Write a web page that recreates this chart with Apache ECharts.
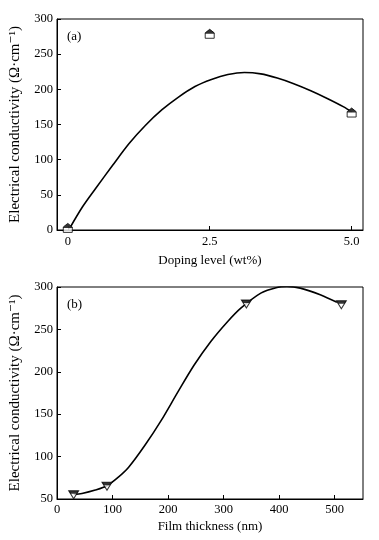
<!DOCTYPE html>
<html><head><meta charset="utf-8">
<script src="https://cdn.jsdelivr.net/npm/echarts@6/dist/echarts.min.js"></script>
<style>html,body{margin:0;padding:0;background:#fff}#c{width:379px;height:540px}</style>
</head><body><div id="c"></div>
<script>
// Panel (a): doping level vs conductivity
const dopingLevels = [0, 2.5, 5.0];
const conductivityA = [3, 279, 167];
const fitXA = [0.03, 0.26, 0.49, 0.79, 1.08, 1.37, 1.66, 1.95, 2.24, 2.53, 2.82, 3.11, 3.40, 3.69, 3.98, 4.28, 4.57, 4.86, 5.0];
const fitYA = [2, 33, 59, 92, 123, 149, 171, 189, 204, 214, 221, 224, 222, 216, 208, 198, 187, 175, 168];
const xTicksA = [0, 2.5, 5.0];
const yTicksA = [0, 50, 100, 150, 200, 250, 300];

// Panel (b): film thickness vs conductivity
const thickness = [30, 90, 341, 512];
const conductivityB = [55, 65, 280, 279];
const fitXB = [30, 45, 69, 90, 111, 129, 158, 188, 218, 247, 277, 307, 331, 367, 396, 414, 438, 474, 504];
const fitYB = [55.4, 56.5, 60.5, 65.6, 76, 87.4, 113, 143, 176.6, 208, 235.7, 259, 275, 292.8, 299.5, 300.6, 298.7, 291, 282];
const xTicksB = [0, 100, 200, 300, 400, 500];
const yTicksB = [50, 100, 150, 200, 250, 300];

const FONT = '"Liberation Serif", "DejaVu Serif", serif';
const yTitle = 'Electrical conductivity (\u03A9\u00B7cm\u207B\u00B9)';

const chart = echarts.init(document.getElementById('c'), null, {renderer: 'canvas'});

function axisCommon() {
  return {
    axisLine: {show: true, onZero: false, lineStyle: {color: '#000', width: 1}},
    splitLine: {show: false},
    nameTextStyle: {color: '#000', fontFamily: FONT, fontSize: 13},
    nameLocation: 'middle'
  };
}
function ticks(vals) {
  return {show: true, inside: true, length: 4, lineStyle: {color: '#000'}, customValues: vals};
}
function labels(vals, margin, fmt) {
  const o = {color: '#000', fontFamily: FONT, fontSize: 12.5, margin: margin, customValues: vals};
  if (fmt) o.formatter = fmt;
  return o;
}

const houseFull = 'path://M5,0 L10,4 L10,10 L0,10 L0,4 Z';
const houseTop = 'path://M5,0 L10,4 L10,5 L0,5 L0,4 Z';
const triFull = 'path://M0,0 L10,0 L5,8 Z';
const triTop = 'path://M0,0 L10,0 L8.125,3 L1.875,3 Z';

function pairs(xs, ys) { return xs.map((x, i) => [x, ys[i]]); }

const yName = {color: '#000', fontFamily: FONT, fontSize: 15};

const option = {
  animation: false,
  backgroundColor: '#fff',
  grid: [
    {left: 54, right: 16, top: 19, height: 211, show: true, borderColor: '#000', borderWidth: 1},
    {left: 54, right: 16, top: 287, height: 212, show: true, borderColor: '#000', borderWidth: 1}
  ],
  xAxis: [
    Object.assign(axisCommon(), {
      gridIndex: 0, type: 'value', min: -0.19, max: 5.2,
      name: 'Doping level (wt%)', nameGap: 24,
      axisTick: ticks(xTicksA),
      axisLabel: labels(xTicksA, 5, v => (v === 0 ? '0' : v.toFixed(1)))
    }),
    Object.assign(axisCommon(), {
      gridIndex: 1, type: 'value', min: 0, max: 551,
      name: 'Film thickness (nm)', nameGap: 21,
      axisTick: ticks(xTicksB),
      axisLabel: labels(xTicksB, 4)
    })
  ],
  yAxis: [
    Object.assign(axisCommon(), {
      gridIndex: 0, type: 'value', min: 0, max: 300, interval: 50,
      name: yTitle, nameGap: 34, nameTextStyle: yName,
      axisTick: ticks(yTicksA),
      axisLabel: labels(yTicksA, 4)
    }),
    Object.assign(axisCommon(), {
      gridIndex: 1, type: 'value', min: 50, max: 300, interval: 50,
      name: yTitle, nameGap: 34, nameTextStyle: yName,
      axisTick: ticks(yTicksB),
      axisLabel: labels(yTicksB, 4)
    })
  ],
  graphic: [
    {type: 'text', left: 67, top: 30, style: {text: '(a)', fill: '#000', font: '13px ' + FONT}},
    {type: 'text', left: 67, top: 298, style: {text: '(b)', fill: '#000', font: '13px ' + FONT}}
  ],
  series: [
    {type: 'line', xAxisIndex: 0, yAxisIndex: 0, data: pairs(fitXA, fitYA), smooth: 0.3,
      showSymbol: false, lineStyle: {color: '#000', width: 1.6}, z: 2},
    {type: 'scatter', xAxisIndex: 0, yAxisIndex: 0, data: pairs(dopingLevels, conductivityA),
      symbol: houseFull, symbolSize: [9, 9], itemStyle: {color: '#fff', borderColor: '#000', borderWidth: 1}, z: 3},
    {type: 'scatter', xAxisIndex: 0, yAxisIndex: 0, data: pairs(dopingLevels, conductivityA),
      symbol: houseTop, symbolSize: [9, 4.5], symbolOffset: [0, -2.25], itemStyle: {color: '#000'}, z: 4},
    {type: 'line', xAxisIndex: 1, yAxisIndex: 1, data: pairs(fitXB, fitYB), smooth: 0.3,
      showSymbol: false, lineStyle: {color: '#000', width: 1.6}, z: 2},
    {type: 'scatter', xAxisIndex: 1, yAxisIndex: 1, data: pairs(thickness, conductivityB),
      symbol: triFull, symbolSize: [10, 8], itemStyle: {color: '#fff', borderColor: '#000', borderWidth: 1}, z: 3},
    {type: 'scatter', xAxisIndex: 1, yAxisIndex: 1, data: pairs(thickness, conductivityB),
      symbol: triTop, symbolSize: [10, 3], symbolOffset: [0, -2.5], itemStyle: {color: '#000'}, z: 4}
  ]
};
chart.setOption(option);
</script>
</body></html>
